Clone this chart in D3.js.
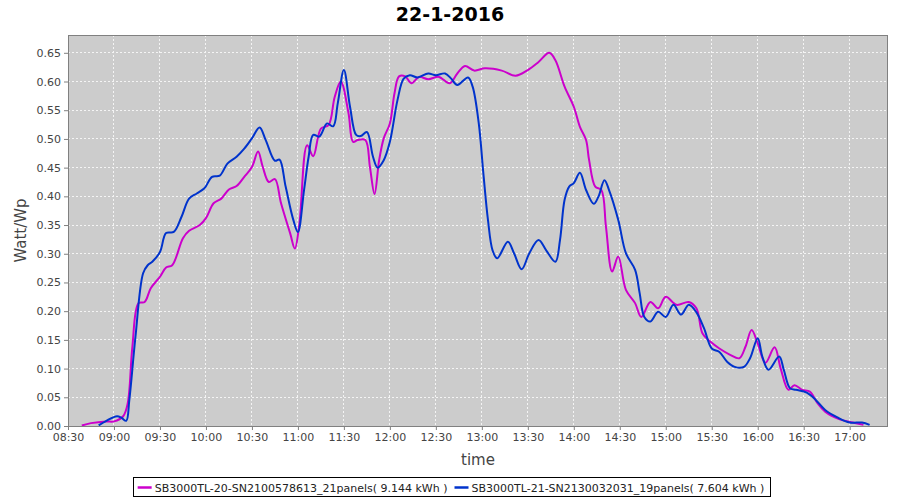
<!DOCTYPE html>
<html>
<head>
<meta charset="utf-8">
<script src="https://cdn.jsdelivr.net/npm/d3@7"></script>
<style>
  html, body { margin: 0; padding: 0; background: #ffffff; }
  svg { display: block; }
</style>
</head>
<body>
<svg id="chart" width="900" height="500"></svg>
<script>
// ---------------- DATA ----------------
const chartTitle = "22-1-2016";
const xAxisLabel = "time";
const yAxisLabel = "Watt/Wp";

const seriesNames = [
  "SB3000TL-20-SN2100578613_21panels( 9.144 kWh )",
  "SB3000TL-21-SN2130032031_19panels( 7.604 kWh )"
];
const seriesColors = ["#cc00cc", "#0033cc"];

// SB3000TL-20 (21 panels)
const timesA = ["08:39","08:45","08:55","09:00","09:06","09:09","09:12","09:16","09:20","09:24","09:30","09:34","09:38","09:45","09:49","09:56","10:00","10:05","10:10","10:15","10:20","10:25","10:30","10:34","10:37","10:41","10:45","10:49","10:55","10:58","11:01","11:06","11:10","11:15","11:20","11:24","11:28","11:33","11:36","11:39","11:44","11:47","11:50","11:53","11:56","12:00","12:03","12:06","12:10","12:14","12:19","12:25","12:32","12:39","12:44","12:49","12:55","13:02","13:13","13:22","13:30","13:37","13:44","13:48","13:54","14:00","14:04","14:08","14:10","14:14","14:18","14:21","14:25","14:29","14:34","14:40","14:44","14:50","14:55","15:00","15:07","15:15","15:20","15:24","15:29","15:35","15:42","15:48","15:52","15:56","16:00","16:05","16:11","16:15","16:20","16:24","16:29","16:34","16:39","16:44","16:53","17:02","17:09"];
const valuesA = [0.001,0.005,0.008,0.008,0.017,0.040,0.138,0.214,0.216,0.240,0.260,0.276,0.280,0.327,0.340,0.350,0.362,0.388,0.396,0.412,0.418,0.434,0.451,0.478,0.452,0.425,0.430,0.388,0.335,0.309,0.353,0.489,0.470,0.518,0.524,0.573,0.600,0.545,0.495,0.498,0.498,0.451,0.404,0.463,0.501,0.527,0.579,0.609,0.609,0.597,0.608,0.604,0.608,0.597,0.614,0.627,0.619,0.623,0.619,0.610,0.620,0.634,0.650,0.637,0.591,0.556,0.521,0.498,0.463,0.417,0.411,0.347,0.269,0.295,0.237,0.214,0.190,0.216,0.205,0.225,0.211,0.216,0.205,0.161,0.147,0.135,0.124,0.118,0.138,0.167,0.144,0.110,0.137,0.100,0.063,0.071,0.063,0.060,0.040,0.025,0.012,0.006,0.002];

// SB3000TL-21 (19 panels)
const timesB = ["08:50","08:55","09:02","09:05","09:08","09:10","09:14","09:19","09:22","09:25","09:30","09:34","09:39","09:44","09:49","09:54","09:59","10:04","10:09","10:14","10:20","10:25","10:30","10:35","10:39","10:45","10:48","10:52","10:57","11:00","11:04","11:07","11:10","11:14","11:19","11:23","11:26","11:30","11:34","11:38","11:41","11:45","11:49","11:52","11:56","12:00","12:05","12:09","12:13","12:18","12:25","12:30","12:36","12:40","12:44","12:51","12:54","12:58","13:01","13:04","13:07","13:10","13:17","13:21","13:26","13:31","13:37","13:42","13:48","13:51","13:54","13:57","14:00","14:04","14:08","14:13","14:16","14:20","14:23","14:29","14:34","14:40","14:43","14:46","14:50","14:55","15:00","15:05","15:10","15:15","15:20","15:25","15:30","15:35","15:40","15:45","15:51","15:55","16:00","16:03","16:07","16:14","16:17","16:21","16:25","16:32","16:38","16:44","16:52","17:00","17:08","17:13"];
const valuesB = [0.001,0.009,0.017,0.014,0.009,0.045,0.155,0.266,0.280,0.286,0.303,0.336,0.338,0.364,0.396,0.405,0.414,0.434,0.436,0.457,0.469,0.483,0.501,0.520,0.498,0.462,0.464,0.417,0.359,0.338,0.411,0.469,0.507,0.504,0.527,0.522,0.562,0.620,0.556,0.507,0.505,0.512,0.469,0.450,0.463,0.495,0.568,0.605,0.611,0.607,0.614,0.611,0.614,0.605,0.594,0.607,0.591,0.527,0.440,0.359,0.306,0.292,0.321,0.301,0.273,0.301,0.324,0.306,0.286,0.324,0.394,0.417,0.423,0.441,0.411,0.387,0.399,0.428,0.411,0.359,0.301,0.272,0.231,0.190,0.182,0.199,0.190,0.211,0.194,0.211,0.198,0.170,0.135,0.129,0.112,0.103,0.103,0.118,0.153,0.121,0.098,0.121,0.098,0.066,0.063,0.058,0.045,0.028,0.015,0.006,0.006,0.002];

const xTickLabels = ["08:30","09:00","09:30","10:00","10:30","11:00","11:30","12:00","12:30","13:00","13:30","14:00","14:30","15:00","15:30","16:00","16:30","17:00"];
const yTickValues = [0.00,0.05,0.10,0.15,0.20,0.25,0.30,0.35,0.40,0.45,0.50,0.55,0.60,0.65];
const xDomain = ["08:30","17:25"];
const yDomain = [0, 0.681];

// ---------------- LAYOUT ----------------
const parse = d3.utcParse("%H:%M");
const plot = { left: 68, top: 35, right: 888, bottom: 426 };

const svg = d3.select("#chart");
const x = d3.scaleUtc().domain(xDomain.map(parse)).range([plot.left, plot.right]);
const y = d3.scaleLinear().domain(yDomain).range([plot.bottom, plot.top]);

const fontUI = "'DejaVu Sans', Verdana, sans-serif";

// title
svg.append("text")
  .attr("x", 450).attr("y", 21)
  .attr("text-anchor", "middle")
  .attr("font-family", fontUI)
  .attr("font-weight", "bold")
  .attr("font-size", 19)
  .attr("fill", "#000")
  .text(chartTitle);

// plot background
svg.append("rect")
  .attr("x", plot.left).attr("y", plot.top)
  .attr("width", plot.right - plot.left).attr("height", plot.bottom - plot.top)
  .attr("fill", "#cccccc");

// gridlines
const xTicks = xTickLabels.map(parse);
svg.append("g").selectAll("line").data(xTicks).join("line")
  .attr("x1", d => x(d)).attr("x2", d => x(d))
  .attr("y1", plot.top).attr("y2", plot.bottom)
  .attr("stroke", "#f4f4f4").attr("stroke-width", 1)
  .attr("stroke-dasharray", "2,2")
  .attr("shape-rendering", "crispEdges");
svg.append("g").selectAll("line").data(yTickValues).join("line")
  .attr("x1", plot.left).attr("x2", plot.right)
  .attr("y1", d => y(d)).attr("y2", d => y(d))
  .attr("stroke", "#f4f4f4").attr("stroke-width", 1)
  .attr("stroke-dasharray", "2,2")
  .attr("shape-rendering", "crispEdges");

// series
const seriesData = [
  timesA.map((t, i) => ({ t: parse(t), v: valuesA[i] })),
  timesB.map((t, i) => ({ t: parse(t), v: valuesB[i] }))
];
const line = d3.line().x(d => x(d.t)).y(d => y(d.v)).curve(d3.curveCatmullRom.alpha(0.5));
svg.append("g").selectAll("path").data(seriesData).join("path")
  .attr("d", line)
  .attr("fill", "none")
  .attr("stroke", (d, i) => seriesColors[i])
  .attr("stroke-width", 2)
  .attr("stroke-linejoin", "round");

// plot outline
svg.append("rect")
  .attr("x", plot.left + 0.5).attr("y", plot.top + 0.5)
  .attr("width", plot.right - plot.left - 1).attr("height", plot.bottom - plot.top)
  .attr("fill", "none").attr("stroke", "#808080").attr("stroke-width", 1);

// axes
const xAxis = d3.axisBottom(x).tickValues(xTicks).tickFormat(d3.utcFormat("%H:%M")).tickSize(4).tickSizeOuter(0).tickPadding(3);
const gx = svg.append("g").attr("transform", `translate(0,${plot.bottom})`).call(xAxis);
const yAxis = d3.axisLeft(y).tickValues(yTickValues).tickFormat(d3.format(".2f")).tickSize(4).tickSizeOuter(0).tickPadding(3);
const gy = svg.append("g").attr("transform", `translate(${plot.left},0)`).call(yAxis);
[gx, gy].forEach(g => {
  g.select(".domain").remove();
  g.selectAll(".tick line").attr("stroke", "#808080");
  g.selectAll(".tick text").attr("fill", "#444444").attr("font-family", fontUI).attr("font-size", 11);
});

// axis labels
svg.append("text")
  .attr("x", (plot.left + plot.right) / 2).attr("y", 465)
  .attr("text-anchor", "middle")
  .attr("font-family", fontUI).attr("font-size", 15).attr("fill", "#444444")
  .text(xAxisLabel);
svg.append("text")
  .attr("transform", `translate(26,${(plot.top + plot.bottom) / 2}) rotate(-90)`)
  .attr("text-anchor", "middle")
  .attr("font-family", fontUI).attr("font-size", 15).attr("fill", "#444444")
  .text(yAxisLabel);

// legend
const legend = svg.append("g");
const items = legend.selectAll("g").data(seriesNames).join("g");
items.append("line")
  .attr("y1", 0).attr("y2", 0).attr("x1", 0).attr("x2", 14)
  .attr("stroke", (d, i) => seriesColors[i]).attr("stroke-width", 2.5);
items.append("text")
  .attr("x", 17).attr("y", 4)
  .attr("font-family", fontUI).attr("font-size", 11).attr("fill", "#222222")
  .text(d => d);
const widths = [];
items.each(function () {
  const w = 17 + this.querySelector("text").getComputedTextLength();
  widths.push(w);
});
const gap = 7;
const totalW = widths.reduce((a, b) => a + b, 0) + gap * (widths.length - 1);
const lx0 = 451 - totalW / 2;
items.attr("transform", (d, i) => {
  const tx = lx0 + widths.slice(0, i).reduce((a, b) => a + b, 0) + gap * i;
  return `translate(${tx},487.5)`;
});
legend.insert("rect", ":first-child")
  .attr("x", Math.round(lx0 - 5) + 0.5).attr("y", 477.5)
  .attr("width", Math.round(totalW + 10)).attr("height", 19)
  .attr("fill", "#ffffff").attr("stroke", "#000000").attr("stroke-width", 1);
</script>
</body>
</html>
